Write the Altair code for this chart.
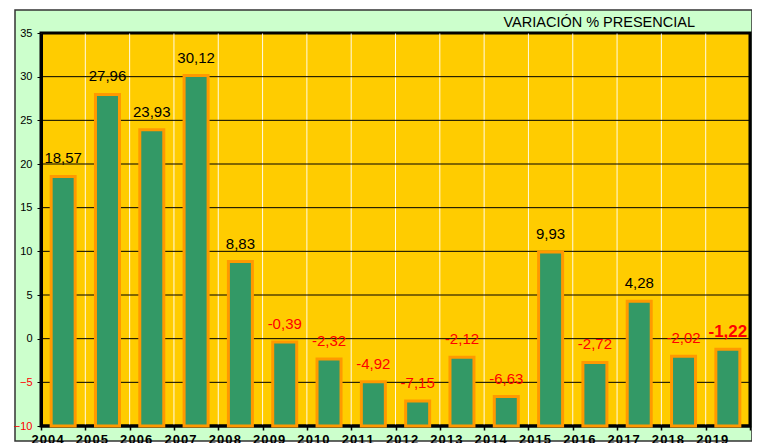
import altair as alt
import pandas as pd

years = [str(y) for y in range(2004, 2020)]
values = [18.57, 27.96, 23.93, 30.12, 8.83, -0.39, -2.32, -4.92, -7.15,
          -2.12, -6.63, 9.93, -2.72, 4.28, -2.02, -1.22]
y_ticks = [-10, -5, 0, 5, 10, 15, 20, 25, 30, 35]
title_text = "VARIACIÓN % PRESENCIAL"

df = pd.DataFrame({"year": years, "value": values})
df["label"] = [f"{v:.2f}".replace(".", ",") for v in values]
grid_df = pd.DataFrame({"v": y_ticks})
one_df = pd.DataFrame({"a": [0]})

W, H = 709, 393
FONT = "Liberation Sans"
yscale = alt.Scale(domain=[-10, 35], nice=False, zero=False)
xscale = alt.Scale(paddingInner=0, paddingOuter=0)

outer = alt.Chart(one_df).mark_rect(
    fill="#CCFFCC", stroke="#333333", strokeWidth=1.5
).encode(
    x=alt.value(-26), x2=alt.value(711), y=alt.value(-23), y2=alt.value(H + 15)
)

plotbg = alt.Chart(one_df).mark_rect(
    fill="#FFCC00", stroke="black", strokeWidth=3
).encode(
    x=alt.value(0), x2=alt.value(W), y=alt.value(0), y2=alt.value(H)
)

title = alt.Chart(one_df).mark_text(
    text=title_text, align="right", baseline="alphabetic",
    font=FONT, fontSize=14.5, color="black"
).encode(x=alt.value(654), y=alt.value(-6))

vgrid = alt.Chart(df).mark_rule(color="white", strokeWidth=1, opacity=0.9).encode(
    x=alt.X("year:N", scale=xscale, bandPosition=0),
    y=alt.value(0), y2=alt.value(H)
)

hgrid = alt.Chart(grid_df).mark_rule(color="black").encode(
    y=alt.Y("v:Q", scale=yscale),
    x=alt.value(0), x2=alt.value(W),
    strokeWidth=alt.condition(alt.datum.v == -10, alt.value(3), alt.value(1))
)

bars = alt.Chart(df).mark_bar(
    size=24, fill="#339966", stroke="#FF9900", strokeWidth=3
).encode(
    x=alt.X("year:N", scale=xscale, sort=None,
            axis=alt.Axis(title=None, tickBand="extent", domain=False, grid=False,
                          ticks=True, tickSize=4, tickWidth=1.5, tickColor="black",
                          labelAngle=0, labelFont=FONT, labelFontSize=13,
                          labelFontWeight="bold", labelColor="black",
                          labelExpr="join(split(datum.label, ''), '\u200a')",
                          labelPadding=9, labelOverlap=False, zindex=1)),
    y=alt.Y("value:Q", scale=yscale,
            axis=alt.Axis(title=None, values=y_ticks, grid=False,
                          domainColor="black", domainWidth=3,
                          tickColor="black", tickSize=4, tickWidth=1,
                          labelPadding=5, labelFont=FONT, labelFontSize=11,
                          labelColor=alt.expr("datum.value < 0 ? '#FF0000' : '#000000'"),
                          zindex=1)),
    y2=alt.datum(-10),
)

text_base = alt.Chart(df).encode(
    x=alt.X("year:N", scale=xscale, sort=None),
    y=alt.Y("value:Q", scale=yscale),
    text="label:N",
    color=alt.condition(alt.datum.value < 0, alt.value("#FF0000"), alt.value("#000000")),
)
labels = text_base.transform_filter(alt.datum.year != "2019").mark_text(
    font=FONT, fontSize=15, baseline="alphabetic", dy=-13
)
last_label = text_base.transform_filter(alt.datum.year == "2019").mark_text(
    font=FONT, fontSize=17, fontWeight="bold", baseline="alphabetic", dy=-12
)

chart = alt.layer(outer, plotbg, vgrid, hgrid, bars, labels, last_label, title).properties(
    width=W, height=H,
    autosize=alt.AutoSizeParams(type="none"),
    padding={"left": 33, "top": 25, "right": 2, "bottom": 26},
    background="white",
).configure_view(stroke=None)

chart.save("out.html", embed_options={"renderer": "svg", "actions": False})
